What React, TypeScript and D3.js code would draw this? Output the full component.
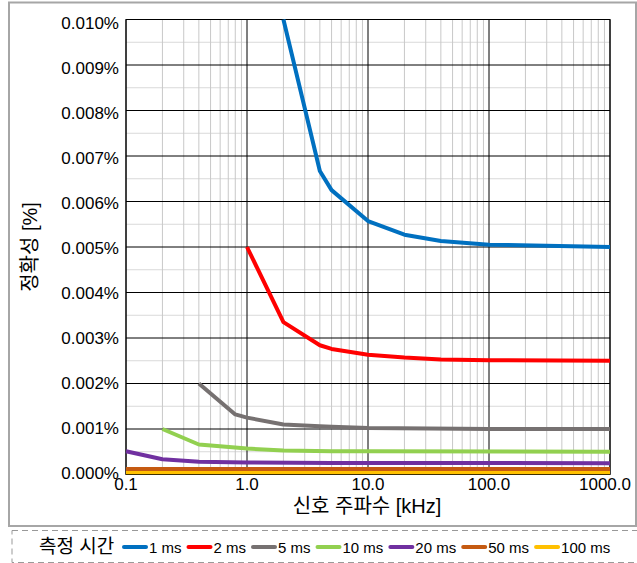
import React from "react";
import * as d3 from "d3";

const xTicks = [0.1, 1, 10, 100, 1000];
const xTickLabels = ["0.1", "1.0", "10.0", "100.0", "1000.0"];
const yTicks = [0, 0.001, 0.002, 0.003, 0.004, 0.005, 0.006, 0.007, 0.008, 0.009, 0.01];
const yTickLabels = yTicks.map((v) => v.toFixed(3) + "%");

const seriesNames = ["1 ms", "2 ms", "5 ms", "10 ms", "20 ms", "50 ms", "100 ms"];
const seriesColors = ["#0070C0", "#FF0000", "#767171", "#92D050", "#7030A0", "#C55A11", "#FFC000"];

const freq1ms = [2, 4, 5, 10, 20, 40, 100, 1000];
const acc1ms = [0.01, 0.00667, 0.00625, 0.00557, 0.00527, 0.00513, 0.00505, 0.005];
const freq2ms = [1, 2, 4, 5, 10, 20, 40, 100, 1000];
const acc2ms = [0.005, 0.00335, 0.00284, 0.00276, 0.00263, 0.00257, 0.00253, 0.00251, 0.0025];
const freq5ms = [0.4, 0.8, 1, 2, 4, 5, 10, 100, 1000];
const acc5ms = [0.002, 0.00132, 0.00125, 0.0011, 0.00106, 0.00105, 0.00102, 0.001, 0.001];
const freq10ms = [0.2, 0.4, 1, 2, 5, 10, 1000];
const acc10ms = [0.001, 0.00066, 0.00057, 0.00053, 0.00051, 0.00051, 0.0005];
const freq20ms = [0.1, 0.2, 0.4, 1, 5, 1000];
const acc20ms = [0.00051, 0.000336, 0.00028, 0.000265, 0.000255, 0.00025];
const freq50ms = [0.1, 1000];
const acc50ms = [0.00012, 0.00012];
const freq100ms = [0.1, 1000];
const acc100ms = [0.00005, 0.00005];

const seriesFreq = [freq1ms, freq2ms, freq5ms, freq10ms, freq20ms, freq50ms, freq100ms];
const seriesAcc = [acc1ms, acc2ms, acc5ms, acc10ms, acc20ms, acc50ms, acc100ms];

const W = 637;
const H = 563;
const FONT = "'Liberation Sans', Arial, 'Noto Sans CJK KR', sans-serif";

function textWidth(t: string, size: number, family: string): number {
  if (typeof document === "undefined") return t.length * size * 0.55;
  const c = document.createElement("canvas");
  const ctx = c.getContext("2d");
  if (!ctx) return t.length * size * 0.55;
  ctx.font = `${size}px ${family}`;
  return ctx.measureText(t).width;
}

export default function App() {
  const left = 126, right = 610, top = 19.5, bottom = 474.5;
  const x = d3.scaleLog().domain([0.1, 1000]).range([left, right]);
  const y = d3.scaleLinear().domain([0, 0.01]).range([bottom, top]);
  // tick labels sit slightly inside the plot's vertical extent
  const yLabel = d3.scaleLinear().domain([0, 0.01]).range([bottom - 2, top + 3.5]);

  const minorX: number[] = [];
  for (let dec = 0.1; dec < 1000; dec *= 10) {
    for (let k = 2; k <= 9; k++) minorX.push(dec * k);
  }
  const minorY = d3.range(0.0005, 0.01, 0.001);

  const line = d3
    .line<[number, number]>()
    .x((d) => x(d[0]))
    .y((d) => y(d[1]));

  // legend layout
  const legTitle = "측정 시간";
  let cursor = 40 + Math.max(78, textWidth(legTitle, 19, FONT)) + 6;
  const legItems = seriesNames.map((name, i) => {
    const sx = cursor;
    const tx = sx + 25;
    cursor = tx + textWidth(name, 15, FONT) + 7;
    return { name, color: seriesColors[i], sx, tx };
  });

  return (
    <svg width={W} height={H} style={{ position: "absolute", left: 0, top: 0 }}>
      <rect x={0} y={0} width={W} height={H} fill="#fff" />
      <rect x={9} y={2.5} width={627} height={523.5} fill="none" stroke="#a6a6a6" strokeWidth={2} />
      {/* minor grid */}
      {minorY.map((v, i) => (
        <line key={"my" + i} x1={left} x2={right} y1={y(v)} y2={y(v)} stroke="#d9d9d9" strokeWidth={1.2} />
      ))}
      {minorX.map((v, i) => (
        <line key={"mx" + i} x1={x(v)} x2={x(v)} y1={top} y2={bottom} stroke="#c8c8c8" strokeWidth={1} />
      ))}
      {/* major grid */}
      {yTicks.map((v, i) => (
        <line key={"gy" + i} x1={left} x2={right} y1={y(v)} y2={y(v)} stroke="#000" strokeWidth={1} />
      ))}
      {xTicks.map((v, i) => (
        <line key={"gx" + i} x1={x(v)} x2={x(v)} y1={top} y2={bottom} stroke="#000" strokeWidth={1} />
      ))}
      <rect x={left} y={top} width={right - left} height={bottom - top} fill="none" stroke="#000" strokeWidth={1} />
      {/* series */}
      {seriesFreq
        .map((fs, i) => (
          <path
            key={"s" + i}
            d={line(fs.map((f, j) => [f, seriesAcc[i][j]] as [number, number])) || ""}
            fill="none"
            stroke={seriesColors[i]}
            strokeWidth={4}
            strokeLinejoin="round"
          />
        ))
        .reverse()}
      {/* y tick labels */}
      {yTicks.map((v, i) => (
        <text key={"yt" + i} x={left - 7} y={yLabel(v) + 6} textAnchor="end" fontFamily={FONT} fontSize={17} fill="#000">
          {yTickLabels[i]}
        </text>
      ))}
      {xTicks.map((v, i) => {
        const last = i === xTicks.length - 1;
        return (
          <text
            key={"xt" + i}
            x={last ? 631 : x(v)}
            y={bottom + 15.5}
            textAnchor={last ? "end" : "middle"}
            fontFamily={FONT}
            fontSize={17}
            fill="#000"
          >
            {xTickLabels[i]}
          </text>
        );
      })}
      <text x={367} y={513} textAnchor="middle" fontFamily={FONT} fontSize={20} fill="#000">
        신호 주파수 [kHz]
      </text>
      <text
        transform={`translate(37, ${(top + bottom) / 2}) rotate(-90)`}
        textAnchor="middle"
        fontFamily={FONT}
        fontSize={20}
        fill="#000"
      >
        정확성 [%]
      </text>
      {/* legend */}
      <rect x={12} y={530.5} width={640} height={32} fill="none" stroke="#999" strokeWidth={1} strokeDasharray="6,4" />
      <text x={39} y={553} fontFamily={FONT} fontSize={19} fill="#000">
        {legTitle}
      </text>
      {legItems.map((it, i) => (
        <g key={"lg" + i}>
          <line x1={it.sx} x2={it.sx + 22} y1={547} y2={547} stroke={it.color} strokeWidth={4} strokeLinecap="round" />
          <text x={it.tx} y={552.5} fontFamily={FONT} fontSize={15} fill="#000">
            {it.name}
          </text>
        </g>
      ))}
    </svg>
  );
}
